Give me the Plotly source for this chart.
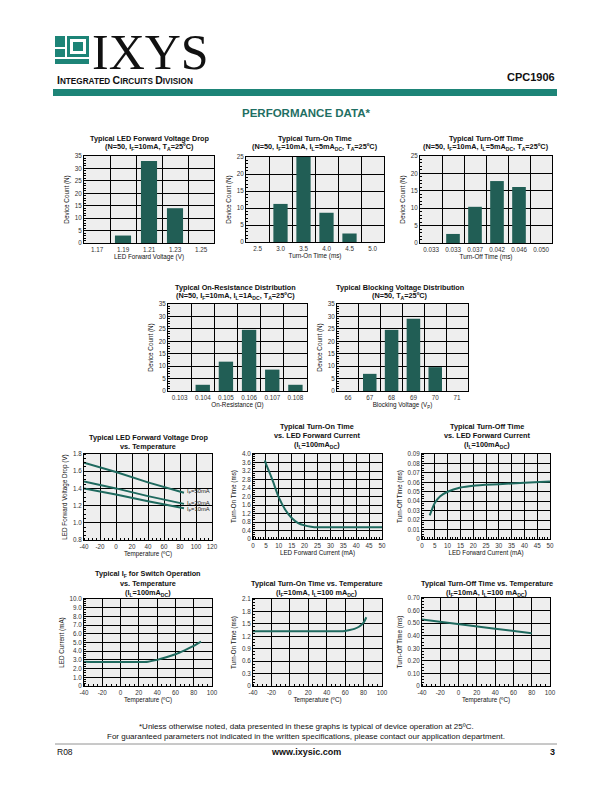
import plotly.graph_objects as go

# page is drawn with the browser's default 8px body margin, so the figure is
# sized and positioned to compensate
OFF = 8
W, H = 612 - OFF, 792 - OFF

# ---------------- data ----------------
c1_labels = ["1.17", "1.19", "1.21", "1.23", "1.25"]
c1_counts = [0, 3, 33, 14, 0]
c2_labels = ["2.5", "3.0", "3.5", "4.0", "4.5", "5.0"]
c2_counts = [0, 11.2, 25, 8.6, 2.5, 0]
c3_labels = ["0.033", "0.033", "0.037", "0.042", "0.046", "0.050"]
c3_counts = [0, 2.6, 10.4, 17.8, 16.1, 0]
c4_labels = ["0.103", "0.104", "0.105", "0.106", "0.107", "0.108"]
c4_counts = [0, 2.5, 11.8, 24.6, 8.6, 2.5]
c5_labels = ["66", "67", "68", "69", "70", "71"]
c5_counts = [0, 6.9, 24.6, 29.1, 9.6, 0]

vf_temp = [-40, 0, 40, 85]
vf_50 = [1.70, 1.59, 1.47, 1.35]
vf_20 = [1.48, 1.40, 1.31, 1.22]
vf_10 = [1.40, 1.33, 1.25, 1.17]

ton_if = [4.6, 5, 7.5, 10, 12.5, 15, 17.5, 20, 22.5, 25, 30, 40, 50]
ton_ms = [3.70, 3.55, 2.79, 1.96, 1.38, 0.99, 0.75, 0.64, 0.58, 0.55, 0.55, 0.55, 0.55]

toff_if = [3, 4, 5, 7, 10, 15, 20, 30, 40, 50]
toff_ms = [0.025, 0.032, 0.038, 0.045, 0.050, 0.0545, 0.0565, 0.058, 0.0595, 0.061]

if_temp = [-40, -20, 0, 20, 30, 40, 50, 60, 70, 80, 88]
if_ma = [2.8, 2.75, 2.75, 2.75, 2.8, 3.0, 3.3, 3.65, 4.1, 4.6, 5.1]

ton_temp = [-40, 0, 40, 55, 60, 65, 70, 75, 80, 83]
ton_temp_ms = [1.32, 1.32, 1.32, 1.32, 1.33, 1.35, 1.38, 1.43, 1.53, 1.66]

toff_temp = [-40, 0, 40, 80]
toff_temp_ms = [0.53, 0.49, 0.455, 0.42]

x_temp120_ticks = [-40, -20, 0, 20, 40, 60, 80, 100, 120]
x_temp120_text = ["-40", "-20", "0", "20", "40", "60", "80", "100", "120"]
x_temp100_ticks = [-40, -20, 0, 20, 40, 60, 80, 100]
x_temp100_text = ["-40", "-20", "0", "20", "40", "60", "80", "100"]
x_if_ticks = [0, 5, 10, 15, 20, 25, 30, 35, 40, 45, 50]
x_if_text = ["0", "5", "10", "15", "20", "25", "30", "35", "40", "45", "50"]

y_vf_ticks = [0.8, 1.0, 1.2, 1.4, 1.6, 1.8]
y_vf_text = ["0.8", "1.0", "1.2", "1.4", "1.6", "1.8"]
y_ton_ticks = [0, 0.4, 0.8, 1.2, 1.6, 2.0, 2.4, 2.8, 3.2, 3.6, 4.0]
y_ton_text = ["0", "0.4", "0.8", "1.2", "1.6", "2.0", "2.4", "2.8", "3.2", "3.6", "4.0"]
y_toff_ticks = [0, 0.01, 0.02, 0.03, 0.04, 0.05, 0.06, 0.07, 0.08, 0.09]
y_toff_text = ["0", "0.01", "0.02", "0.03", "0.04", "0.05", "0.06", "0.07", "0.08", "0.09"]
y_if_ticks = [0, 1, 2, 3, 4, 5, 6, 7, 8, 9, 10]
y_if_text = ["0", "1.0", "2.0", "3.0", "4.0", "5.0", "6.0", "7.0", "8.0", "9.0", "10.0"]
y_tont_ticks = [0, 0.3, 0.6, 0.9, 1.2, 1.5, 1.8, 2.1]
y_tont_text = ["0", "0.3", "0.6", "0.9", "1.2", "1.5", "1.8", "2.1"]
y_tofft_ticks = [0, 0.1, 0.2, 0.3, 0.4, 0.5, 0.6, 0.7]
y_tofft_text = ["0", "0.10", "0.20", "0.30", "0.40", "0.50", "0.60", "0.70"]

# ---------------- styling ----------------
FONT = "Liberation Sans, Arial, sans-serif"
BAR = "#215e55"
LINE = "#1f6a5f"
TEAL = "#1d8477"
BG = "#eeeeee"
TICKF = dict(family=FONT, size=6.3, color="#333333")
ATF = dict(family=FONT, size=6.3, color="#111111")
TSIZE = 7.3


def px(x):
    return (x - OFF) / W


def py(y):
    return 1 - (y - OFF) / H


fig = go.Figure()
annotations = []
shapes = []
layout = {}


def txt(x, y, s, size=7, bold=False, color="#111111", xanchor="center", family=FONT):
    if bold:
        s = "<b>" + s + "</b>"
    annotations.append(dict(x=px(x), y=py(y), xref="paper", yref="paper", text=s,
                            showarrow=False, xanchor=xanchor, yanchor="middle",
                            font=dict(family=family, size=size, color=color)))


def axes(i, l, r, t, b):
    xa = "xaxis" if i == 1 else "xaxis%d" % i
    ya = "yaxis" if i == 1 else "yaxis%d" % i
    common = dict(showline=True, linecolor="black", linewidth=1, mirror=True, automargin=False,
                  tickfont=TICKF, zeroline=False, ticks="", fixedrange=True)
    layout[xa] = dict(domain=[px(l), px(r)], anchor="y" if i == 1 else "y%d" % i, **common)
    layout[ya] = dict(domain=[py(b), py(t)], anchor="x" if i == 1 else "x%d" % i, **common)
    return xa, ya


def bar_chart(i, labels, counts, ymax, l, r, t, b, xtitle, title_lines, tcx, ty):
    xa, ya = axes(i, l, r, t, b)
    n = len(labels)
    idx = list(range(n))
    fig.add_trace(go.Bar(x=idx, y=counts, marker=dict(color=BAR, line=dict(width=0)),
                         width=0.62, xaxis="x" if i == 1 else "x%d" % i,
                         yaxis="y" if i == 1 else "y%d" % i, showlegend=False))
    layout[xa].update(range=[-0.5, n - 0.5], tickmode="array", tickvals=idx, ticktext=labels,
                      showgrid=False,
                      minor=dict(tick0=0.5, dtick=1, showgrid=True, gridcolor="black", gridwidth=1.2,
                                 ticks=""),
                      title=dict(text=xtitle, font=ATF, standoff=3))
    layout[ya].update(range=[0, ymax], dtick=5, showgrid=True, gridcolor="black", gridwidth=1.2,
                      minor=dict(dtick=1, ticks="inside", ticklen=2, tickcolor="black", showgrid=False),
                      title=dict(text="Device Count (N)", font=ATF, standoff=4))
    for k, s in enumerate(title_lines):
        txt(tcx, ty + 8.5 * k, s, size=TSIZE, bold=True)


def line_chart(i, traces, xticks, xtext, xminor, yticks, ytext, yminor, l, r, t, b, xtitle, ytitle,
               title_lines, tcx, ty, spline=True):
    xa, ya = axes(i, l, r, t, b)
    for xs, ys in traces:
        ln = dict(color=LINE, width=2, shape="spline", smoothing=0.6) if spline else dict(color=LINE, width=2)
        fig.add_trace(go.Scatter(x=xs, y=ys, mode="lines", line=ln,
                                 xaxis="x" if i == 1 else "x%d" % i,
                                 yaxis="y" if i == 1 else "y%d" % i, showlegend=False))
    layout[xa].update(range=[xticks[0], xticks[-1]], tickmode="array", tickvals=xticks, ticktext=xtext,
                      showgrid=True, gridcolor="black", gridwidth=1.2,
                      minor=dict(dtick=xminor, tick0=xticks[0], ticks="inside", ticklen=2, tickcolor="black",
                                 showgrid=False),
                      title=dict(text=xtitle, font=ATF, standoff=3))
    layout[ya].update(range=[yticks[0], yticks[-1]], tickmode="array", tickvals=yticks, ticktext=ytext,
                      showgrid=True, gridcolor="black", gridwidth=1.2,
                      minor=dict(dtick=yminor, tick0=yticks[0], ticks="inside", ticklen=2, tickcolor="black",
                                 showgrid=False),
                      title=dict(text=ytitle, font=ATF, standoff=4))
    for k, s in enumerate(title_lines):
        txt(tcx, ty + 9.5 * k, s, size=TSIZE, bold=True)


# ---------------- histograms ----------------
bar_chart(1, c1_labels, c1_counts, 35, 84, 214, 156, 243, "LED Forward Voltage (V)",
          ["Typical LED Forward Voltage Drop", "(N=50, I<sub>F</sub>=10mA, T<sub>A</sub>=25ºC)"], 149, 139)
bar_chart(2, c2_labels, c2_counts, 25, 246, 384, 157, 242, "Turn-On Time (ms)",
          ["Typical Turn-On Time", "(N=50, I<sub>F</sub>=10mA, I<sub>L</sub>=5mA<sub>DC</sub>, T<sub>A</sub>=25ºC)"],
          315, 139)
bar_chart(3, c3_labels, c3_counts, 25, 420, 552, 156, 243, "Turn-Off Time (ms)",
          ["Typical Turn-Off Time", "(N=50, I<sub>F</sub>=10mA, I<sub>L</sub>=5mA<sub>DC</sub>, T<sub>A</sub>=25ºC)"],
          486, 139)
bar_chart(4, c4_labels, c4_counts, 35, 168, 307, 304, 391, "On-Resistance (Ω)",
          ["Typical On-Resistance Distribution", "(N=50, I<sub>F</sub>=10mA, I<sub>L</sub>=1A<sub>DC</sub>, T<sub>A</sub>=25ºC)"],
          235, 287)
bar_chart(5, c5_labels, c5_counts, 35, 337, 468, 304, 391, "Blocking Voltage (V<sub>P</sub>)",
          ["Typical Blocking Voltage Distribution", "(N=50, T<sub>A</sub>=25ºC)"], 400, 287)

# ---------------- curves ----------------
line_chart(6, [(vf_temp, vf_50), (vf_temp, vf_20), (vf_temp, vf_10)], x_temp120_ticks, x_temp120_text, 5,
           y_vf_ticks, y_vf_text, 0.05, 84, 212, 454, 540, "Temperature (ºC)",
           "LED Forward Voltage Drop (V)", ["Typical LED Forward Voltage Drop", "vs. Temperature"], 148, 437,
           spline=False)
for yv, lab in [(1.36, "50"), (1.23, "20"), (1.15, "10")]:
    annotations.append(dict(x=86, y=yv, xref="x6", yref="y6", text="I<sub>F</sub>=%smA" % lab, showarrow=False,
                            xanchor="left", yanchor="middle", font=dict(family=FONT, size=5.8, color="#222")))

line_chart(7, [(ton_if, ton_ms)], x_if_ticks, x_if_text, 1, y_ton_ticks, y_ton_text, 0.1, 253, 382, 454, 539,
           "LED Forward Current (mA)", "Turn-On Time (ms)",
           ["Typical Turn-On Time", "vs. LED Forward Current", "(I<sub>L</sub>=100mA<sub>DC</sub>)"], 317, 426)
line_chart(8, [(toff_if, toff_ms)], x_if_ticks, x_if_text, 1, y_toff_ticks, y_toff_text, 0.0025, 422, 550, 454,
           539, "LED Forward Current (mA)", "Turn-Off Time (ms)",
           ["Typical Turn-Off Time", "vs. LED Forward Current", "(I<sub>L</sub>=100mA<sub>DC</sub>)"], 487, 426)
line_chart(9, [(if_temp, if_ma)], x_temp100_ticks, x_temp100_text, 5, y_if_ticks, y_if_text, 0.25, 84, 212,
           599, 686, "Temperature (ºC)", "LED Current (mA)",
           ["Typical I<sub>F</sub> for Switch Operation", "vs. Temperature", "(I<sub>L</sub>=100mA<sub>DC</sub>)"],
           148, 574)
line_chart(10, [(ton_temp, ton_temp_ms)], x_temp100_ticks, x_temp100_text, 5, y_tont_ticks, y_tont_text, 0.075,
           253, 382, 599, 686, "Temperature (ºC)", "Turn-On Time (ms)",
           ["Typical Turn-On Time vs. Temperature", "(I<sub>F</sub>=10mA, I<sub>L</sub>=100 mA<sub>DC</sub>)"],
           317, 583)
line_chart(11, [(toff_temp, toff_temp_ms)], x_temp100_ticks, x_temp100_text, 5, y_tofft_ticks, y_tofft_text,
           0.025, 422, 550, 598, 686, "Temperature (ºC)", "Turn-Off Time (ms)",
           ["Typical Turn-Off Time vs. Temperature", "(I<sub>F</sub>=10mA, I<sub>L</sub>=100 mA<sub>DC</sub>)"],
           487, 583, spline=False)


# ---------------- header / footer ----------------
def rect(x0, y0, x1, y1, color, width=0):
    shapes.append(dict(type="rect", xref="paper", yref="paper", x0=px(x0), x1=px(x1), y0=py(y1), y1=py(y0),
                       fillcolor=color, line=dict(width=width, color=color), layer="above"))


# logo blocks
rect(55, 36, 65, 47, TEAL)
rect(67, 36, 89, 57, TEAL)
rect(55, 49, 65, 57, TEAL)
rect(55, 59, 89, 64, TEAL)
rect(70, 39, 86, 54, "#ffffff")
rect(73, 42, 83, 51, TEAL)
txt(90, 52, "IXYS", size=50, color="#111111", xanchor="left", family="Liberation Serif, DejaVu Serif, serif")
txt(55, 80, "<b><span style='font-size:10.5px'>I</span>NTEGRATED <span style='font-size:10.5px'>C</span>IRCUITS "
            "<span style='font-size:10.5px'>D</span>IVISION</b>", size=8.2, xanchor="left")
annotations.append(dict(x=px(557), y=py(77), xref="paper", yref="paper", text="<b>CPC1906</b>",
                        showarrow=False, xanchor="right", yanchor="middle",
                        font=dict(family=FONT, size=11, color="#111")))
rect(53, 89, 557, 96, TEAL)
txt(306, 113, "PERFORMANCE DATA*", size=11.5, bold=True, color="#1f6f63")

txt(306, 726, "*Unless otherwise noted, data presented in these graphs is typical of device operation at 25ºC.",
    size=8)
txt(306, 736, "For guaranteed parameters not indicated in the written specifications, please contact our "
              "application department.", size=8)
shapes.append(dict(type="line", xref="paper", yref="paper", x0=px(55), x1=px(557), y0=py(744), y1=py(744),
                   line=dict(color="#777", width=0.8)))
txt(55, 752, "R08", size=8.5, xanchor="left")
txt(306, 752, "www.ixysic.com", size=9, bold=True)
annotations.append(dict(x=px(557), y=py(752), xref="paper", yref="paper", text="<b>3</b>", showarrow=False,
                        xanchor="right", yanchor="middle", font=dict(family=FONT, size=9, color="#111")))

layout.update(template="none", width=W, height=H,
              margin=dict(l=0, r=0, t=0, b=0, pad=0, autoexpand=False), paper_bgcolor="white",
              plot_bgcolor=BG, showlegend=False, annotations=annotations, shapes=shapes,
              font=dict(family=FONT, color="#111"))
fig.update_layout(**layout)
fig.write_html("out.html", config={"displayModeBar": False})
